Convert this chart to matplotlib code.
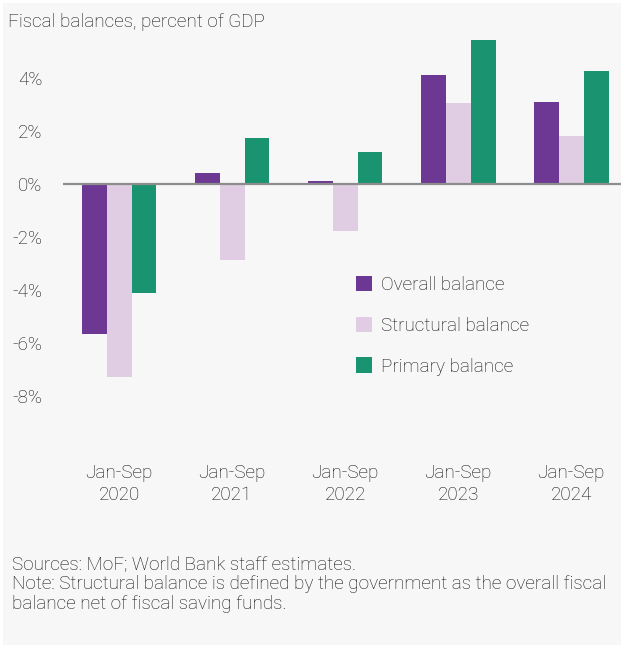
import matplotlib
matplotlib.use("Agg")
import matplotlib.pyplot as plt
from matplotlib.patches import Rectangle, Patch
import numpy as np

plt.rcParams['font.family'] = ['Roboto', 'DejaVu Sans']
plt.rcParams['font.weight'] = 'light'

categories = ["Jan-Sep\n2020", "Jan-Sep\n2021", "Jan-Sep\n2022", "Jan-Sep\n2023", "Jan-Sep\n2024"]
overall = [-5.65, 0.42, 0.11, 4.1, 3.1]
structural = [-7.27, -2.87, -1.77, 3.07, 1.81]
primary = [-4.1, 1.74, 1.22, 5.42, 4.26]
series_names = ["Overall balance", "Structural balance", "Primary balance"]
y_ticks = [4, 2, 0, -2, -4, -6, -8]

colors = ["#6C3894", "#E0CCE3", "#1A9470"]
text_color = "#111111"
panel_color = "#F7F7F7"
fs = 13.6

W, H = 625, 648
fig = plt.figure(figsize=(W / 100, H / 100), dpi=100, facecolor="white")

# light panel behind everything
fig.patches.append(Rectangle((3 / W, 1 - 645 / H), (621 - 3) / W, (645 - 3) / H,
                             transform=fig.transFigure, facecolor=panel_color,
                             edgecolor="none", zorder=-10))

px = 26.5          # pixels per percentage point
zero_y = 184
ymin, ymax = -9, 6
ax_top = zero_y - ymax * px
ax_bot = zero_y - ymin * px
ax_left, ax_right = 63, 621
ax = fig.add_axes([ax_left / W, 1 - ax_bot / H, (ax_right - ax_left) / W, (ax_bot - ax_top) / H])
ax.set_facecolor("none")
ax.set_zorder(5)

x = np.arange(len(categories))
bw = 0.22
for i, (vals, c, name) in enumerate(zip([overall, structural, primary], colors, series_names)):
    ax.bar(x + (i - 1) * bw, vals, width=bw, color=c, edgecolor="none", label=name, zorder=2)

ax.axhline(0, color="#8C8C8C", linewidth=1.6, zorder=3)

ax.set_ylim(ymin, ymax)
ax.set_xlim(-0.496, 4.44)
ax.set_yticks(y_ticks)
ax.set_yticklabels([f"{v}%" for v in y_ticks])
ax.set_xticks(x)
ax.set_xticklabels(categories, linespacing=1.3)
ax.tick_params(axis="y", length=0, pad=15, labelsize=fs, labelcolor=text_color)
ax.tick_params(axis="x", length=0, pad=30, labelsize=fs, labelcolor=text_color)
for s in ax.spines.values():
    s.set_visible(False)

handles = [Patch(facecolor=c, edgecolor="none") for c in colors]
leg = fig.legend(handles, series_names, loc="upper left",
                 bbox_to_anchor=(339 / W, 1 - 259 / H), frameon=False,
                 fontsize=fs, labelcolor=text_color, handlelength=0.85, handleheight=0.85,
                 handletextpad=0.45, labelspacing=1.2)
leg.set_zorder(6)

fig.text(8 / W, 1 - 22 / H, "Fiscal balances, percent of GDP", fontsize=fs,
         color=text_color, va="center", ha="left")

notes = ("Sources: MoF; World Bank staff estimates.\n"
         "Note: Structural balance is defined by the government as the overall fiscal\n"
         "balance net of fiscal saving funds.")
fig.text(12 / W, 1 - 555 / H, notes, fontsize=fs, color=text_color,
         va="top", ha="left", linespacing=1.13)

fig.savefig("out.png", dpi=100, facecolor="white")
